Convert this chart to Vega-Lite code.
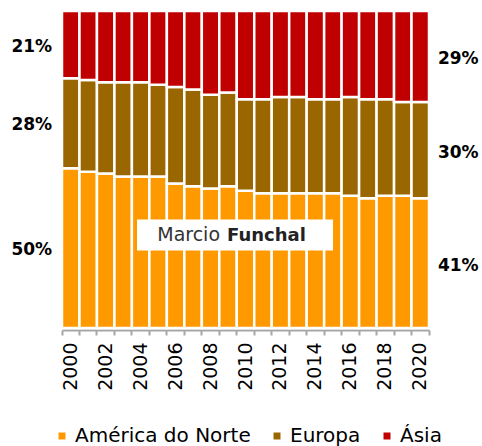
{
  "$schema": "https://vega.github.io/schema/vega-lite/v6.json",
  "width": 367,
  "height": 317,
  "autosize": {"type": "none"},
  "padding": {"left": 62, "top": 11, "right": 53, "bottom": 118},
  "background": "white",
  "config": {
    "view": {"stroke": null},
    "font": "DejaVu Sans"
  },
  "datasets": {
    "shares": [
      {"year": 2000, "region": "América do Norte", "share": 0.504},
      {"year": 2000, "region": "Europa", "share": 0.284},
      {"year": 2000, "region": "Ásia", "share": 0.212},
      {"year": 2001, "region": "América do Norte", "share": 0.493},
      {"year": 2001, "region": "Europa", "share": 0.289},
      {"year": 2001, "region": "Ásia", "share": 0.218},
      {"year": 2002, "region": "América do Norte", "share": 0.487},
      {"year": 2002, "region": "Europa", "share": 0.288},
      {"year": 2002, "region": "Ásia", "share": 0.225},
      {"year": 2003, "region": "América do Norte", "share": 0.478},
      {"year": 2003, "region": "Europa", "share": 0.297},
      {"year": 2003, "region": "Ásia", "share": 0.225},
      {"year": 2004, "region": "América do Norte", "share": 0.478},
      {"year": 2004, "region": "Europa", "share": 0.297},
      {"year": 2004, "region": "Ásia", "share": 0.225},
      {"year": 2005, "region": "América do Norte", "share": 0.478},
      {"year": 2005, "region": "Europa", "share": 0.289},
      {"year": 2005, "region": "Ásia", "share": 0.233},
      {"year": 2006, "region": "América do Norte", "share": 0.456},
      {"year": 2006, "region": "Europa", "share": 0.304},
      {"year": 2006, "region": "Ásia", "share": 0.240},
      {"year": 2007, "region": "América do Norte", "share": 0.447},
      {"year": 2007, "region": "Europa", "share": 0.305},
      {"year": 2007, "region": "Ásia", "share": 0.248},
      {"year": 2008, "region": "América do Norte", "share": 0.440},
      {"year": 2008, "region": "Europa", "share": 0.296},
      {"year": 2008, "region": "Ásia", "share": 0.264},
      {"year": 2009, "region": "América do Norte", "share": 0.447},
      {"year": 2009, "region": "Europa", "share": 0.296},
      {"year": 2009, "region": "Ásia", "share": 0.257},
      {"year": 2010, "region": "América do Norte", "share": 0.433},
      {"year": 2010, "region": "Europa", "share": 0.289},
      {"year": 2010, "region": "Ásia", "share": 0.278},
      {"year": 2011, "region": "América do Norte", "share": 0.425},
      {"year": 2011, "region": "Europa", "share": 0.297},
      {"year": 2011, "region": "Ásia", "share": 0.278},
      {"year": 2012, "region": "América do Norte", "share": 0.425},
      {"year": 2012, "region": "Europa", "share": 0.304},
      {"year": 2012, "region": "Ásia", "share": 0.271},
      {"year": 2013, "region": "América do Norte", "share": 0.425},
      {"year": 2013, "region": "Europa", "share": 0.304},
      {"year": 2013, "region": "Ásia", "share": 0.271},
      {"year": 2014, "region": "América do Norte", "share": 0.425},
      {"year": 2014, "region": "Europa", "share": 0.297},
      {"year": 2014, "region": "Ásia", "share": 0.278},
      {"year": 2015, "region": "América do Norte", "share": 0.425},
      {"year": 2015, "region": "Europa", "share": 0.297},
      {"year": 2015, "region": "Ásia", "share": 0.278},
      {"year": 2016, "region": "América do Norte", "share": 0.417},
      {"year": 2016, "region": "Europa", "share": 0.312},
      {"year": 2016, "region": "Ásia", "share": 0.271},
      {"year": 2017, "region": "América do Norte", "share": 0.409},
      {"year": 2017, "region": "Europa", "share": 0.313},
      {"year": 2017, "region": "Ásia", "share": 0.278},
      {"year": 2018, "region": "América do Norte", "share": 0.417},
      {"year": 2018, "region": "Europa", "share": 0.305},
      {"year": 2018, "region": "Ásia", "share": 0.278},
      {"year": 2019, "region": "América do Norte", "share": 0.417},
      {"year": 2019, "region": "Europa", "share": 0.296},
      {"year": 2019, "region": "Ásia", "share": 0.287},
      {"year": 2020, "region": "América do Norte", "share": 0.409},
      {"year": 2020, "region": "Europa", "share": 0.304},
      {"year": 2020, "region": "Ásia", "share": 0.287}
    ],
    "brand": [
      {"first": "Marcio", "last": "Funchal"}
    ]
  },
  "data": {"name": "shares"},
  "layer": [
    {
      "mark": {"type": "bar", "stroke": "white", "strokeWidth": 2.5},
      "encoding": {
        "x": {
          "field": "year", "type": "ordinal",
          "scale": {"paddingInner": 0, "paddingOuter": 0},
          "axis": {
            "title": null,
            "bandPosition": 1,
            "tickExtra": true,
            "offset": 2,
            "domainColor": "#A6A6A6",
            "domainWidth": 2,
            "tickColor": "#A6A6A6",
            "tickWidth": 2,
            "tickSize": 5,
            "labelAngle": -90,
            "labelPadding": 7,
            "labelFont": "DejaVu Sans",
            "labelFontSize": 19,
            "labelColor": "black",
            "labelExpr": "datum.value % 2 == 0 ? datum.label : ''"
          }
        },
        "y": {"field": "share", "type": "quantitative", "stack": "normalize", "axis": null},
        "order": {"field": "region", "sort": "ascending"},
        "color": {
          "field": "region", "type": "nominal",
          "scale": {"domain": ["América do Norte", "Europa", "Ásia"], "range": ["#FF9900", "#996600", "#C00000"]},
          "legend": {
            "title": null,
            "orient": "none",
            "direction": "horizontal",
            "legendX": -10,
            "legendY": 415,
            "padding": 0,
            "symbolType": "square",
            "symbolSize": 49,
            "symbolStrokeWidth": 0,
            "labelFont": "DejaVu Sans",
            "labelFontSize": 20,
            "labelLimit": 400,
            "labelColor": "black",
            "labelOffset": 3,
            "columnPadding": 16
          }
        }
      }
    },
    {
      "transform": [{"filter": "datum.year == 2000"}],
      "mark": {"type": "text", "dx": -39, "dy": 2, "font": "DejaVu Sans", "fontWeight": "bold", "fontSize": 17, "color": "black", "baseline": "middle"},
      "encoding": {
        "x": {"field": "year", "type": "ordinal"},
        "y": {"field": "share", "type": "quantitative", "stack": "normalize", "bandPosition": 0.5},
        "order": {"field": "region", "sort": "ascending"},
        "detail": {"field": "region"},
        "text": {"field": "share", "type": "quantitative", "format": ".0%"}
      }
    },
    {
      "transform": [{"filter": "datum.year == 2020"}],
      "mark": {"type": "text", "dx": 38, "dy": 3, "font": "DejaVu Sans", "fontWeight": "bold", "fontSize": 17, "color": "black", "baseline": "middle"},
      "encoding": {
        "x": {"field": "year", "type": "ordinal"},
        "y": {"field": "share", "type": "quantitative", "stack": "normalize", "bandPosition": 0.5},
        "order": {"field": "region", "sort": "ascending"},
        "detail": {"field": "region"},
        "text": {"field": "share", "type": "quantitative", "format": ".0%"}
      }
    },
    {
      "data": {"name": "brand"},
      "mark": {"type": "point", "shape": "M-1,-0.158L1,-0.158L1,0.158L-1,0.158Z", "filled": true, "fill": "white", "opacity": 1, "strokeWidth": 0, "size": 38416, "xOffset": 7},
      "encoding": {
        "x": {"datum": 2009, "type": "ordinal"},
        "y": {"datum": 0.2934, "type": "quantitative"}
      }
    },
    {
      "data": {"name": "brand"},
      "mark": {"type": "text", "align": "right", "baseline": "alphabetic", "xOffset": -8, "dy": 6, "font": "DejaVu Sans", "fontSize": 19, "fontWeight": "normal", "color": "#333333"},
      "encoding": {
        "x": {"datum": 2009, "type": "ordinal"},
        "y": {"datum": 0.2934, "type": "quantitative"},
        "text": {"field": "first"}
      }
    },
    {
      "data": {"name": "brand"},
      "mark": {"type": "text", "align": "left", "baseline": "alphabetic", "xOffset": -1, "dy": 6, "font": "DejaVu Sans", "fontSize": 18, "fontWeight": "bold", "color": "#222222"},
      "encoding": {
        "x": {"datum": 2009, "type": "ordinal"},
        "y": {"datum": 0.2934, "type": "quantitative"},
        "text": {"field": "last"}
      }
    }
  ]
}
